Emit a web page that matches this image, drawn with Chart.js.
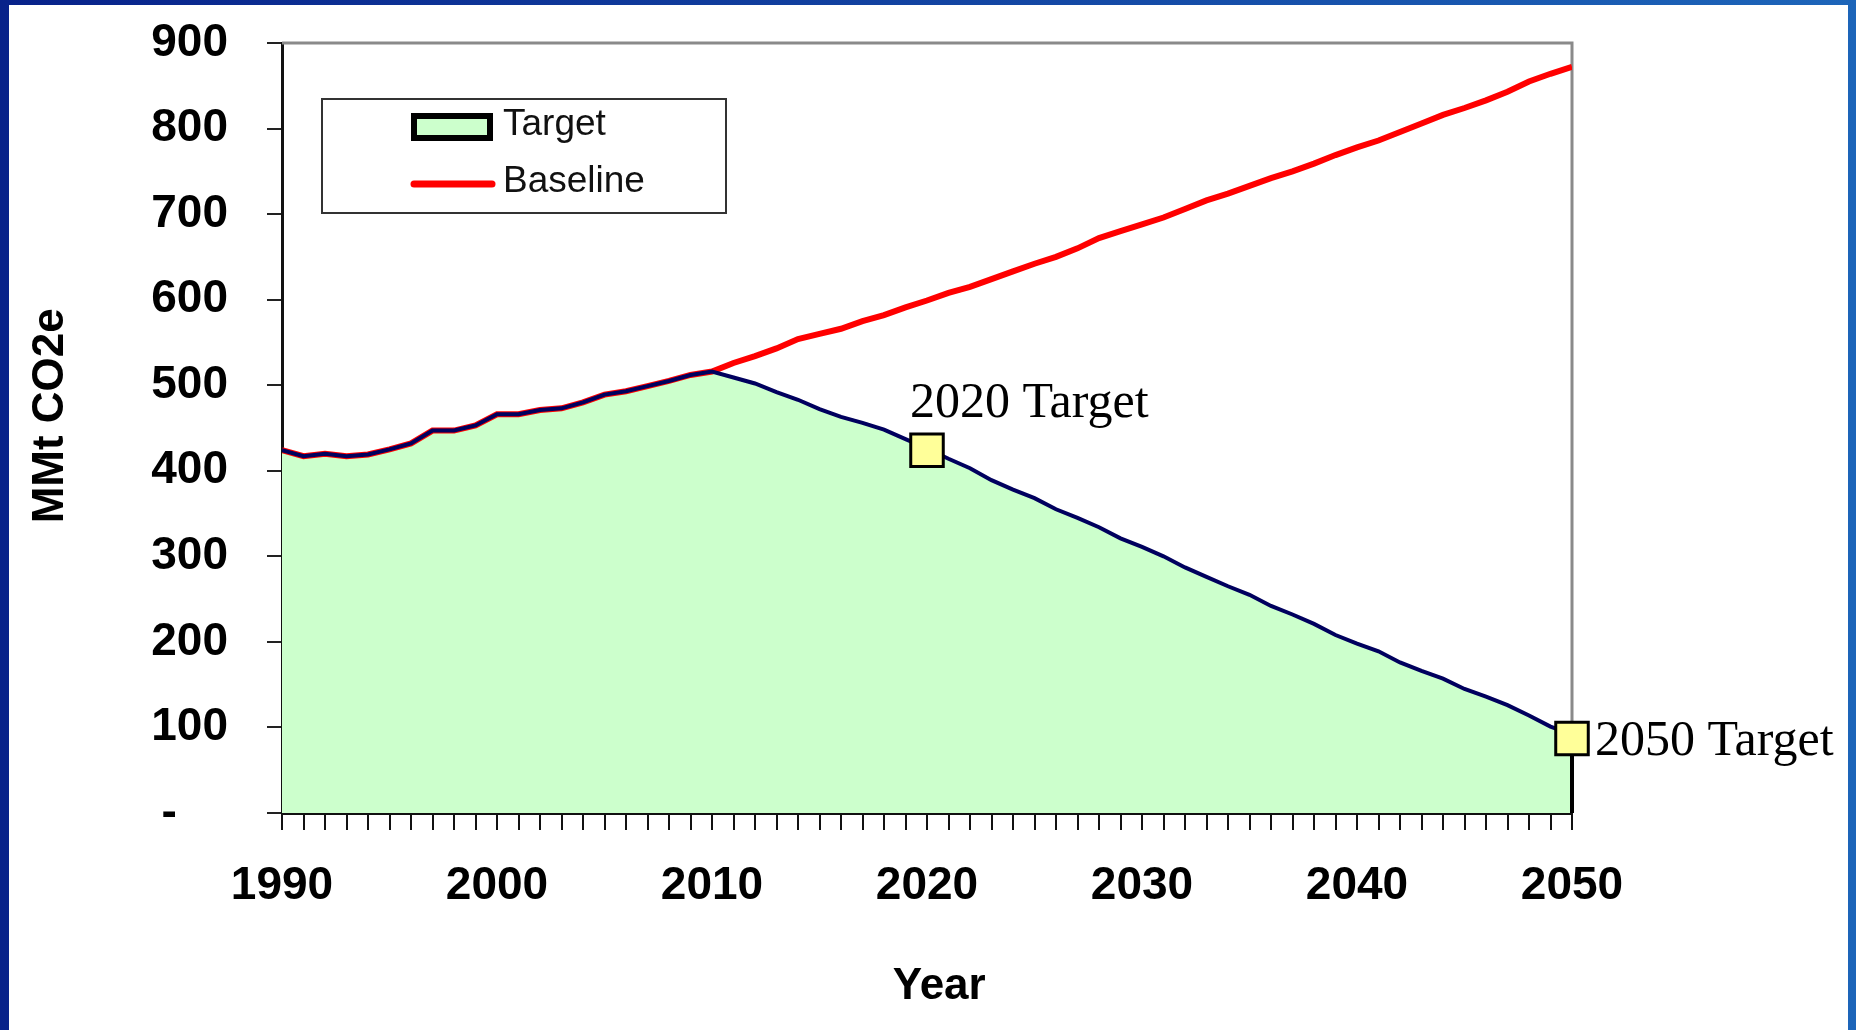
<!DOCTYPE html>
<html>
<head>
<meta charset="utf-8">
<title>MMt CO2e - Target vs Baseline</title>
<script src="https://cdn.jsdelivr.net/npm/chart.js@4.4.1/dist/chart.umd.min.js"></script>
<style>
  html, body { margin: 0; padding: 0; }
  body {
    width: 1856px;
    height: 1030px;
    overflow: hidden;
    position: relative;
    background: linear-gradient(to right, #08228a, #1d65b9);
  }
  #sheet { position: absolute; left: 9px; top: 5px; width: 1839px; height: 1025px; background: #fff; }
  #emissionsChart { position: absolute; left: 0; top: 0; }
</style>
</head>
<body>
<div id="sheet"></div>
<canvas id="emissionsChart" width="1856" height="1030"></canvas>
<script>
// Years on the x axis
const years = [
    1990, 1991, 1992, 1993, 1994, 1995, 1996, 1997, 1998, 1999,
    2000, 2001, 2002, 2003, 2004, 2005, 2006, 2007, 2008, 2009,
    2010, 2011, 2012, 2013, 2014, 2015, 2016, 2017, 2018, 2019,
    2020, 2021, 2022, 2023, 2024, 2025, 2026, 2027, 2028, 2029,
    2030, 2031, 2032, 2033, 2034, 2035, 2036, 2037, 2038, 2039,
    2040, 2041, 2042, 2043, 2044, 2045, 2046, 2047, 2048, 2049,
    2050
];

// Baseline emissions (MMt CO2e)
const baseline = [
    424, 417, 420, 417, 419, 425, 432, 447, 447, 453,
    466, 466, 471, 473, 480, 489, 493, 499, 505, 512,
    516, 526, 534, 543, 554, 560, 566, 575, 582, 591,
    599, 608, 615, 624, 633, 642, 650, 660, 672, 680,
    688, 696, 706, 716, 724, 733, 742, 750, 759, 769,
    778, 786, 796, 806, 816, 824, 833, 843, 855, 864,
    872
];

// Target pathway (MMt CO2e)
const target = [
    424, 417, 420, 417, 419, 425, 432, 447, 447, 453,
    466, 466, 471, 473, 480, 489, 493, 499, 505, 512,
    516, 509, 502, 492, 483, 472, 463, 456, 448, 437,
    426, 414, 403, 389, 378, 368, 355, 345, 334, 321,
    311, 300, 287, 276, 265, 255, 242, 232, 221, 208,
    198, 189, 176, 166, 157, 145, 136, 126, 114, 101,
    92
];

// Target milestones
const milestoneYears = [2020, 2050];
const milestoneValues = [424, 87];
const milestoneLabels = ['2020 Target', '2050 Target'];

// Axis labels
const xTickLabels = ['1990', '2000', '2010', '2020', '2030', '2040', '2050'];
const yTickLabels = ['-', '100', '200', '300', '400', '500', '600', '700', '800', '900'];

const SANS = '"Liberation Sans", Arial, sans-serif';
const SERIF = '"Liberation Serif", "Times New Roman", serif';

function toPoints(xs, ys) {
    return xs.map((x, i) => ({ x: x, y: ys[i] }));
}

// gray top/right frame of the plot area (Excel style)
const plotFrame = {
    id: 'plotFrame',
    beforeDatasetsDraw(chart) {
        const { ctx, chartArea: a } = chart;
        ctx.save();
        ctx.strokeStyle = '#8a8a8a';
        ctx.lineWidth = 3;
        ctx.beginPath();
        ctx.moveTo(a.left, a.top);
        ctx.lineTo(a.right, a.top);
        ctx.lineTo(a.right, a.bottom);
        ctx.stroke();
        ctx.restore();
    }
};

// text next to the milestone squares
const milestoneText = {
    id: 'milestoneText',
    afterDatasetsDraw(chart) {
        const { ctx } = chart;
        const meta = chart.getDatasetMeta(0);
        ctx.save();
        ctx.font = '50px ' + SERIF;
        ctx.fillStyle = '#000';
        ctx.textAlign = 'left';
        ctx.textBaseline = 'alphabetic';
        meta.data.forEach((pt, i) => {
            if (i === 0) {
                ctx.fillText(milestoneLabels[i], pt.x - 17, pt.y - 33);
            } else {
                ctx.fillText(milestoneLabels[i], pt.x + 23, pt.y + 16);
            }
        });
        ctx.restore();
    }
};

// boxed legend inside the plot
const boxLegend = {
    id: 'boxLegend',
    afterDraw(chart) {
        const { ctx } = chart;
        ctx.save();
        ctx.fillStyle = '#fff';
        ctx.fillRect(322, 99, 404, 114);
        ctx.strokeStyle = '#333';
        ctx.lineWidth = 2;
        ctx.strokeRect(322, 99, 404, 114);

        // Target swatch
        ctx.fillStyle = '#ccffcc';
        ctx.fillRect(414, 116, 76, 22);
        ctx.strokeStyle = '#000';
        ctx.lineWidth = 6;
        ctx.strokeRect(414, 116, 76, 22);

        // Baseline swatch
        ctx.strokeStyle = '#ff0000';
        ctx.lineWidth = 7;
        ctx.lineCap = 'round';
        ctx.beginPath();
        ctx.moveTo(414, 184);
        ctx.lineTo(492, 184);
        ctx.stroke();

        ctx.fillStyle = '#111';
        ctx.font = '37px ' + SANS;
        ctx.textBaseline = 'alphabetic';
        ctx.fillText('Target', 503, 135);
        ctx.fillText('Baseline', 503, 192);
        ctx.restore();
    }
};

const ctx = document.getElementById('emissionsChart');

new Chart(ctx.getContext('2d'), {
    type: 'line',
    data: {
        datasets: [{
            label: 'Milestones',
            type: 'scatter',
            data: toPoints(milestoneYears, milestoneValues),
            pointStyle: 'rect',
            pointRadius: 23,
            pointBackgroundColor: '#ffff99',
            pointBorderColor: '#000',
            pointBorderWidth: 3,
            clip: false,
            order: 0
        }, {
            label: 'Target',
            data: toPoints(years, target),
            borderColor: '#00005e',
            borderWidth: 4,
            backgroundColor: '#ccffcc',
            fill: 'origin',
            pointRadius: 0,
            tension: 0,
            order: 1
        }, {
            label: 'Target edge',
            data: toPoints([years[years.length - 1], years[years.length - 1]], [0, target[target.length - 1]]),
            borderColor: '#000',
            borderWidth: 4,
            pointRadius: 0,
            clip: false,
            order: 2
        }, {
            label: 'Baseline',
            data: toPoints(years, baseline),
            borderColor: '#ff0000',
            borderWidth: 6,
            pointRadius: 0,
            tension: 0,
            fill: false,
            order: 3
        }]
    },
    options: {
        responsive: false,
        animation: false,
        devicePixelRatio: 1,
        events: [],
        layout: {
            padding: { left: 10, top: 43, right: 284, bottom: 0 }
        },
        plugins: {
            legend: { display: false },
            tooltip: { enabled: false },
            filler: { drawTime: 'beforeDatasetsDraw' }
        },
        scales: {
            x: {
                type: 'linear',
                min: 1990,
                max: 2050,
                z: 1,
                border: { display: true, color: '#111', width: 3 },
                grid: {
                    drawOnChartArea: false,
                    drawTicks: true,
                    tickLength: 17,
                    color: '#111',
                    lineWidth: 2
                },
                ticks: {
                    stepSize: 1,
                    autoSkip: false,
                    maxRotation: 0,
                    padding: 29,
                    color: '#000',
                    font: { family: SANS, size: 46, weight: 'bold' },
                    callback: function(value) {
                        const s = String(value);
                        return xTickLabels.includes(s) ? s : '';
                    }
                },
                title: {
                    display: true,
                    text: '  Year',
                    color: '#000',
                    font: { family: SANS, size: 44, weight: 'bold' },
                    padding: { top: 0, bottom: 17 }
                },
                afterFit: function(scale) {
                    scale.height = 217;
                    scale.paddingLeft = 0;
                    scale.paddingRight = 0;
                }
            },
            y: {
                min: 0,
                max: 900,
                z: 1,
                border: { display: true, color: '#111', width: 3 },
                grid: {
                    drawOnChartArea: false,
                    drawTicks: true,
                    tickLength: 15,
                    color: '#222',
                    lineWidth: 2
                },
                ticks: {
                    stepSize: 100,
                    padding: 39,
                    color: '#000',
                    font: { family: SANS, size: 46, weight: 'bold' },
                    callback: function(value, index) {
                        const s = yTickLabels[index];
                        return s === '-' ? '-    ' : s;
                    }
                },
                title: {
                    display: true,
                    text: '  MMt CO2e',
                    color: '#000',
                    font: { family: SANS, size: 44, weight: 'bold' },
                    padding: { top: 14, bottom: 0 }
                },
                afterFit: function(scale) {
                    scale.width = 272;
                    scale.paddingTop = 0;
                    scale.paddingBottom = 0;
                }
            }
        }
    },
    plugins: [plotFrame, milestoneText, boxLegend]
});
</script>
</body>
</html>
